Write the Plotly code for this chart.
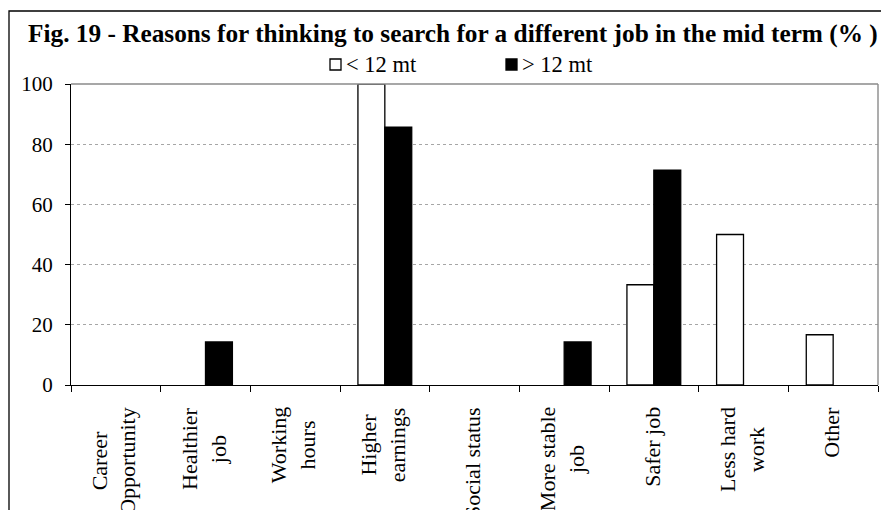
import plotly.graph_objects as go

# Reasons for thinking to search for a different job (% of respondents)
categories = [
    "Career<br>Opportunity",
    "Healthier<br>job",
    "Working<br>hours",
    "Higher<br>earnings",
    "Social status",
    "More stable<br>job",
    "Safer job",
    "Less hard<br>work",
    "Other",
]
series_names = ["< 12 mt", "> 12 mt"]
under_12 = [0, 0, 0, 100, 0, 0, 33.3, 50, 16.7]
over_12 = [0, 14.3, 0, 85.7, 0, 14.3, 71.4, 0, 0]
y_ticks = [0, 20, 40, 60, 80, 100]

title_text = "Fig. 19 - Reasons for thinking to search for a different job in the mid term (% )"

W, H = 881, 510
M_L, M_R, M_T, M_B = 71, 3, 84, 125
PW, PH = W - M_L - M_R, H - M_T - M_B

SERIF = "Liberation Serif, Times New Roman, serif"


def px_to_paper_x(px):
    return (px - M_L) / PW


def px_to_paper_y(py):
    return (H - M_B - py) / PH


def outline_widths(values, width=1.3):
    # no outline on empty bars, so nothing is drawn along the axis
    return [width if v else 0 for v in values]


fig = go.Figure()
fig.add_trace(go.Bar(
    x=categories, y=under_12, name=series_names[0],
    marker=dict(color="white", line=dict(color="black", width=outline_widths(under_12))),
    showlegend=False,
))
fig.add_trace(go.Bar(
    x=categories, y=over_12, name=series_names[1],
    marker=dict(color="black", line=dict(color="black", width=outline_widths(over_12))),
    showlegend=False,
))

shapes = []
annotations = []

# outer frame of the figure (runs off the right and bottom edges)
shapes.append(dict(
    type="rect", xref="paper", yref="paper",
    x0=px_to_paper_x(9), x1=px_to_paper_x(W + 20),
    y0=px_to_paper_y(H + 20), y1=px_to_paper_y(11),
    line=dict(color="black", width=1.3), fillcolor="rgba(0,0,0,0)", layer="below",
))
# grey top and right edges of the plot area
shapes.append(dict(type="line", xref="paper", yref="paper", x0=0, x1=1, y0=1, y1=1,
                   line=dict(color="#8a8a8a", width=1.4), layer="above"))
shapes.append(dict(type="line", xref="paper", yref="paper", x0=1, x1=1, y0=0, y1=1,
                   line=dict(color="#8a8a8a", width=1.4), layer="above"))

# legend: square swatch + label for each series
legend_x = [329, 505]
legend_fill = ["white", "black"]
for name, lx, fill in zip(series_names, legend_x, legend_fill):
    shapes.append(dict(
        type="rect", xref="paper", yref="paper",
        x0=px_to_paper_x(lx + 1), x1=px_to_paper_x(lx + 12),
        y0=px_to_paper_y(70), y1=px_to_paper_y(59),
        line=dict(color="black", width=1.3), fillcolor=fill,
    ))
    annotations.append(dict(
        text=name, xref="paper", yref="paper",
        x=px_to_paper_x(lx + 15), y=px_to_paper_y(65),
        xanchor="left", yanchor="middle", showarrow=False,
        font=dict(family=SERIF, size=22.5, color="black"),
    ))

# rotated, centre-aligned category labels under the axis
for cat in categories:
    annotations.append(dict(
        text=cat, x=cat, xref="x", y=0, yref="paper",
        yanchor="top", xanchor="center", yshift=-20, xshift=-2,
        textangle=-90, align="center", showarrow=False,
        font=dict(family=SERIF, size=22, color="black"),
    ))

fig.update_layout(
    width=W, height=H,
    margin=dict(l=M_L, r=M_R, t=M_T, b=M_B),
    paper_bgcolor="white", plot_bgcolor="white",
    barmode="group", bargap=0.4, bargroupgap=0,
    title=dict(
        text="<b>" + title_text + "</b>",
        x=28 / W, xanchor="left", xref="container",
        y=1 - 33 / H, yanchor="middle", yref="container",
        font=dict(family=SERIF, size=25.3, color="black"),
    ),
    shapes=shapes,
    annotations=annotations,
)
fig.update_xaxes(
    type="category", tickson="boundaries", showticklabels=False,
    ticks="outside", ticklen=6, tickcolor="black", tickwidth=1.2,
    showline=True, linecolor="black", linewidth=1.3,
    showgrid=False, zeroline=False,
)
fig.update_yaxes(
    range=[0, 100], tickvals=y_ticks, ticks="outside", ticklen=5,
    tickcolor="black", tickwidth=1.2, ticklabelstandoff=8,
    showline=True, linecolor="black", linewidth=1.3,
    showgrid=True, gridcolor="#a6a6a6", gridwidth=1, griddash="dot",
    zeroline=False,
    tickfont=dict(family=SERIF, size=21, color="black"),
)

fig.write_html("out.html")
